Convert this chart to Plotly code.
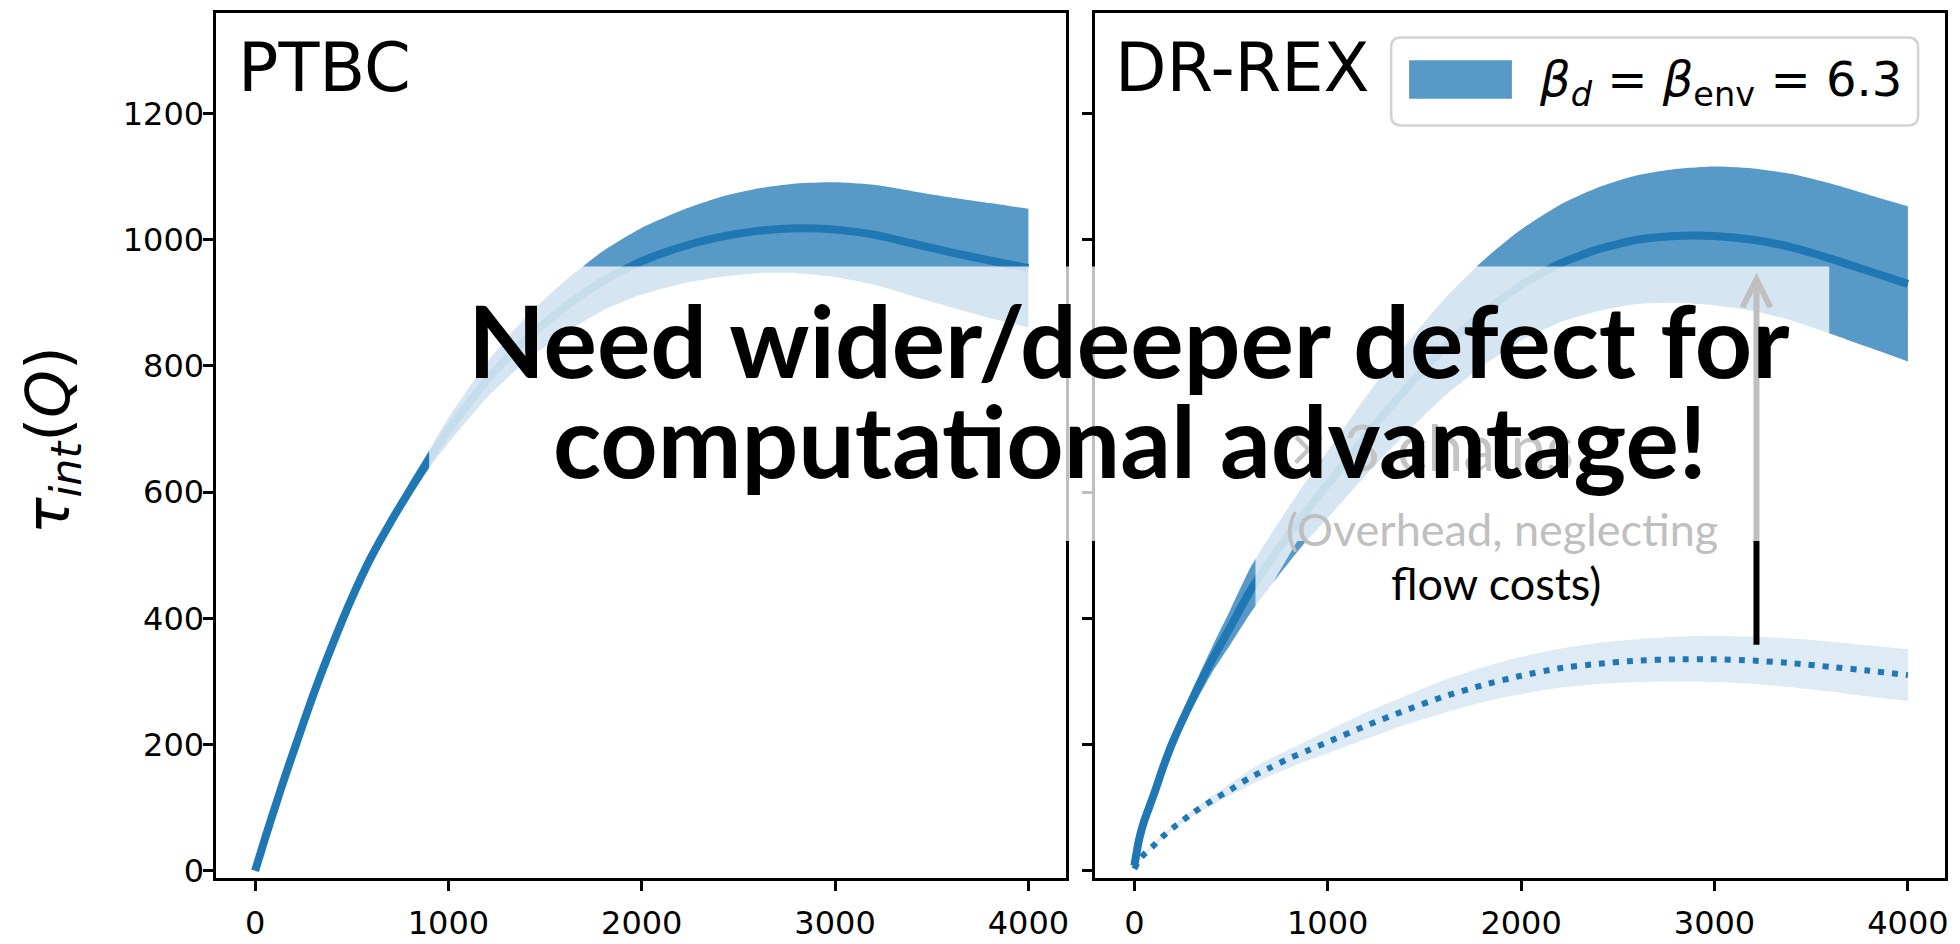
import plotly.graph_objects as go

W, H = 1960, 944

# ---------------- data ----------------
x_ptbc = [0, 25, 50, 100, 150, 200, 300, 400, 500, 600, 700, 800, 900, 1000, 1200, 1400, 1600,
          1800, 2000, 2200, 2400, 2600, 2800, 3000, 3200, 3400, 3600, 3800, 4000]
ptbc_mean = [0, 25, 50, 98, 145, 190, 278, 358, 432, 497, 552, 603, 652, 698, 778, 842, 893,
             935, 966, 988, 1004, 1014, 1018, 1016, 1008, 994, 980, 967, 955]
ptbc_upper = [1, 27, 52, 101, 148, 194, 283, 364, 439, 505, 562, 615, 666, 718, 806, 877, 934,
              982, 1019, 1046, 1067, 1081, 1089, 1091, 1087, 1077, 1067, 1058, 1049]
ptbc_lower = [0, 23, 48, 95, 142, 186, 273, 352, 425, 489, 542, 591, 638, 678, 750, 807, 852,
              888, 913, 930, 941, 947, 947, 941, 929, 911, 893, 876, 861]

x_drex = [0, 25, 50, 100, 150, 200, 300, 400, 500, 600, 700, 800, 900, 1000, 1200, 1400, 1600,
          1800, 2000, 2200, 2400, 2600, 2800, 3000, 3200, 3400, 3600, 3800, 4000]
drex_mean = [8, 50, 78, 120, 165, 205, 272, 333, 388, 444, 490, 533, 574, 612, 690, 762, 828,
             883, 928, 962, 985, 1000, 1006, 1006, 1000, 988, 970, 950, 930]
drex_upper = [10, 54, 83, 127, 174, 216, 287, 353, 416, 480, 530, 577, 622, 665, 752, 832, 905,
              966, 1016, 1055, 1083, 1102, 1112, 1116, 1113, 1104, 1089, 1071, 1053]
drex_lower = [6, 46, 73, 113, 156, 194, 257, 313, 360, 408, 450, 489, 526, 559, 628, 692, 751,
              800, 840, 869, 887, 898, 900, 896, 887, 872, 851, 829, 807]

# overhead-corrected (x3 chains)
drex3_mean = [3, 17, 26, 40, 55, 68, 91, 111, 129, 148, 163, 178, 191, 204, 230, 254, 276,
              294, 309, 321, 328, 333, 335, 335, 333, 329, 323, 317, 310]
drex3_upper = [3, 18, 28, 42, 58, 72, 96, 118, 139, 160, 177, 192, 207, 222, 251, 277, 302,
               322, 339, 352, 361, 367, 371, 372, 371, 368, 363, 357, 351]
drex3_lower = [2, 15, 24, 38, 52, 65, 86, 104, 120, 136, 150, 163, 175, 186, 209, 231, 250,
               267, 280, 290, 296, 299, 300, 299, 296, 291, 284, 276, 269]

x_ticks = [0, 1000, 2000, 3000, 4000]
y_ticks = [0, 200, 400, 600, 800, 1000, 1200]

C0 = "#1f77b4"
BAND_DARK = "rgba(31,119,180,0.75)"
BAND_LIGHT = "rgba(31,119,180,0.15)"


def px(x):
    return x / W


def py(y):
    return 1 - y / H


fig = go.Figure()
SP = dict(shape="spline", smoothing=0.6)


def band(x, lo, hi, color, xa, ya):
    fig.add_trace(go.Scatter(x=x, y=lo, mode="lines", line=dict(width=0, **SP), hoverinfo="skip",
                             showlegend=False, xaxis=xa, yaxis=ya))
    fig.add_trace(go.Scatter(x=x, y=hi, mode="lines", line=dict(width=0, **SP), fill="tonexty",
                             fillcolor=color, hoverinfo="skip", showlegend=False, xaxis=xa, yaxis=ya))


# PTBC panel
band(x_ptbc, ptbc_lower, ptbc_upper, BAND_DARK, "x", "y")
fig.add_trace(go.Scatter(x=x_ptbc, y=ptbc_mean, mode="lines", line=dict(color=C0, width=8, **SP),
                         showlegend=False, xaxis="x", yaxis="y"))

# DR-REX panel
band(x_drex, drex3_lower, drex3_upper, BAND_LIGHT, "x2", "y2")
fig.add_trace(go.Scatter(x=x_drex, y=drex3_mean, mode="lines",
                         line=dict(color=C0, width=6, dash="6px,8px", **SP),
                         showlegend=False, xaxis="x2", yaxis="y2"))
band(x_drex, drex_lower, drex_upper, BAND_DARK, "x2", "y2")
fig.add_trace(go.Scatter(x=x_drex, y=drex_mean, mode="lines", line=dict(color=C0, width=8, **SP),
                         showlegend=False, xaxis="x2", yaxis="y2"))

axis_common = dict(showline=True, linecolor="black", linewidth=2.5, mirror=True,
                   ticks="outside", ticklen=11, tickwidth=2.5, tickcolor="black",
                   showgrid=False, zeroline=False,
                   tickfont=dict(family="DejaVu Sans", size=32, color="black"))

x_range = [-201, 4192]
y_range = [-11, 1360]
dom_y = [py(889), py(12.7)]

fig.update_layout(
    width=W, height=H, autosize=False,
    margin=dict(l=0, r=0, t=0, b=0),
    paper_bgcolor="white", plot_bgcolor="white",
    showlegend=False,
    xaxis=dict(domain=[px(216.7), px(1067.7)], range=x_range, tickvals=x_ticks, anchor="y",
               ticklabelstandoff=4, **axis_common),
    yaxis=dict(domain=dom_y, range=y_range, tickvals=y_ticks, anchor="x",
               ticklabelstandoff=-8, **axis_common),
    xaxis2=dict(domain=[px(1097.7), px(1949)], range=x_range, tickvals=x_ticks, anchor="y2",
                ticklabelstandoff=4, **axis_common),
    yaxis2=dict(domain=dom_y, range=y_range, tickvals=y_ticks, anchor="x2",
                showticklabels=False, **axis_common),
)

shapes = []
# arrow (drawn before overlay so the upper part appears grey)
ax_x = 3217
shapes.append(dict(type="line", xref="x2", yref="y2", x0=ax_x, x1=ax_x, y0=358, y1=935,
                   line=dict(color="black", width=6), layer="above"))
shapes.append(dict(type="path", xref="x2", yref="y2",
                   path=f"M {ax_x-72},{893} L {ax_x},{937} L {ax_x+72},{893}",
                   line=dict(color="black", width=6), layer="above"))
# semi-transparent white overlay
shapes.append(dict(type="rect", xref="paper", yref="paper",
                   x0=px(430), x1=px(1833), y0=py(548), y1=py(270),
                   fillcolor="white", opacity=0.75, line=dict(width=0), layer="above"))
shapes.append(dict(type="path", xref="paper", yref="paper",
                   path=f"M {px(1258)},{py(548)} L {px(1300)},{py(548)} L {px(1258)},{py(620)} Z",
                   fillcolor="white", opacity=0.75, line=dict(width=0), layer="above"))

# legend frame (rounded)
lx0, lx1, ly0, ly1, r = 1394, 1922, 38, 127, 10
path = (f"M {px(lx0+r)},{py(ly0)} L {px(lx1-r)},{py(ly0)} "
        f"Q {px(lx1)},{py(ly0)} {px(lx1)},{py(ly0+r)} L {px(lx1)},{py(ly1-r)} "
        f"Q {px(lx1)},{py(ly1)} {px(lx1-r)},{py(ly1)} L {px(lx0+r)},{py(ly1)} "
        f"Q {px(lx0)},{py(ly1)} {px(lx0)},{py(ly1-r)} L {px(lx0)},{py(ly0+r)} "
        f"Q {px(lx0)},{py(ly0)} {px(lx0+r)},{py(ly0)} Z")
shapes.append(dict(type="path", xref="paper", yref="paper", path=path,
                   fillcolor="rgba(255,255,255,0.85)", line=dict(color="#d3d3d3", width=2.5),
                   layer="above"))
shapes.append(dict(type="rect", xref="paper", yref="paper",
                   x0=px(1412), x1=px(1515), y0=py(100), y1=py(61),
                   fillcolor="#5799c7", line=dict(width=0), layer="above"))
fig.update_layout(shapes=shapes)

ann = []
ann.append(dict(xref="paper", yref="paper", x=px(236), y=py(69), xanchor="left", yanchor="middle",
                text="PTBC", showarrow=False,
                font=dict(family="DejaVu Sans", size=67, color="black")))
ann.append(dict(xref="paper", yref="paper", x=px(1115), y=py(69), xanchor="left", yanchor="middle",
                text="DR-REX", showarrow=False,
                font=dict(family="DejaVu Sans", size=67, color="black")))
ann.append(dict(xref="paper", yref="paper", x=px(1540), y=py(84), xanchor="left", yanchor="middle",
                text="<i>β</i><sub><i>d</i></sub> = <i>β</i><sub>env</sub> = 6.3", showarrow=False,
                font=dict(family="DejaVu Sans", size=48, color="black")))
ann.append(dict(xref="paper", yref="paper", x=px(52), y=py(446), xanchor="center", yanchor="middle",
                textangle=-90, text="<i>τ</i><sub><i>int</i></sub>(<i>Q</i>)", showarrow=False,
                font=dict(family="DejaVu Sans", size=61, color="black")))
# texts partly hidden by overlay
ann.append(dict(xref="paper", yref="paper", x=px(1435), y=py(452), xanchor="center", yanchor="middle",
                text="× 3 chains", showarrow=False,
                font=dict(family="Lato", size=64, color="#c4c4c4")))
ann.append(dict(xref="paper", yref="paper", x=px(1505), y=py(536), xanchor="center", yanchor="middle",
                text="(Overhead, neglecting", showarrow=False,
                font=dict(family="Lato", size=45, color="#bfbfbf")))
ann.append(dict(xref="paper", yref="paper", x=px(1499), y=py(590), xanchor="center", yanchor="middle",
                text="flow costs)", showarrow=False,
                font=dict(family="Lato", size=45, color="black")))
# headline
ann.append(dict(xref="paper", yref="paper", x=px(1131), y=py(343), xanchor="center", yanchor="middle",
                text="<b>Need wider/deeper defect for</b>", showarrow=False,
                font=dict(family="Lato", size=100, color="black")))
ann.append(dict(xref="paper", yref="paper", x=px(1132), y=py(445), xanchor="center", yanchor="middle",
                text="<b>computational advantage!</b>", showarrow=False,
                font=dict(family="Lato", size=100, color="black")))
fig.update_layout(annotations=ann)

fig.write_html("out.html")
